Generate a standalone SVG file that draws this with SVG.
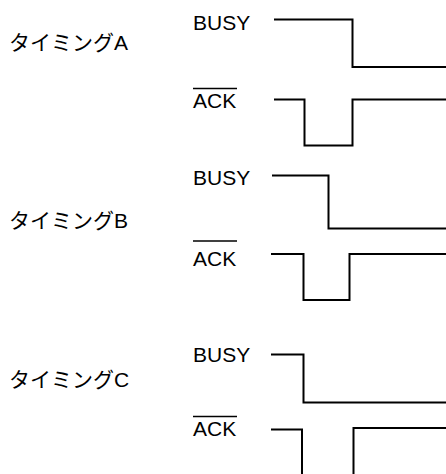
<svg xmlns="http://www.w3.org/2000/svg" width="446" height="474" viewBox="0 0 446 474">
<style>
text{font-family:"Liberation Sans","Noto Sans CJK JP",Arial,sans-serif;font-size:21px;fill:#000}
.sig{fill:none;stroke:#000;stroke-width:2;stroke-linejoin:miter;stroke-linecap:butt}
.ov{stroke:#000;stroke-width:1.4}
</style>
<rect width="446" height="474" fill="#fff"/>
<g id="timingA">
<text x="9" y="49.5">タイミングA</text>
<text x="193" y="29.5">BUSY</text>
<text x="193" y="107.5">ACK</text>
<line class="ov" x1="193" y1="88.5" x2="237" y2="88.5"/>
<polyline class="sig" points="274,19.5 352.5,19.5 352.5,67 446,67"/>
<polyline class="sig" points="274,99.5 304.5,99.5 304.5,145.5 352.5,145.5 352.5,99.5 446,99.5"/>
</g>
<g id="timingB">
<text x="9" y="228">タイミングB</text>
<text x="193" y="184.5">BUSY</text>
<text x="193" y="265.5">ACK</text>
<line class="ov" x1="193" y1="241" x2="237" y2="241"/>
<polyline class="sig" points="272,175.5 328.5,175.5 328.5,228.5 446,228.5"/>
<polyline class="sig" points="271,254 303.5,254 303.5,300 349.5,300 349.5,254 446,254"/>
</g>
<g id="timingC">
<text x="9" y="386.5">タイミングC</text>
<text x="193" y="361.5">BUSY</text>
<text x="193" y="436">ACK</text>
<line class="ov" x1="193" y1="416.5" x2="237" y2="416.5"/>
<polyline class="sig" points="271,354.5 303.5,354.5 303.5,402.5 446,402.5"/>
<polyline class="sig" points="271,429.5 302,429.5 302,474"/>
<polyline class="sig" points="353.5,474 353.5,428 446,428"/>
</g>
</svg>
